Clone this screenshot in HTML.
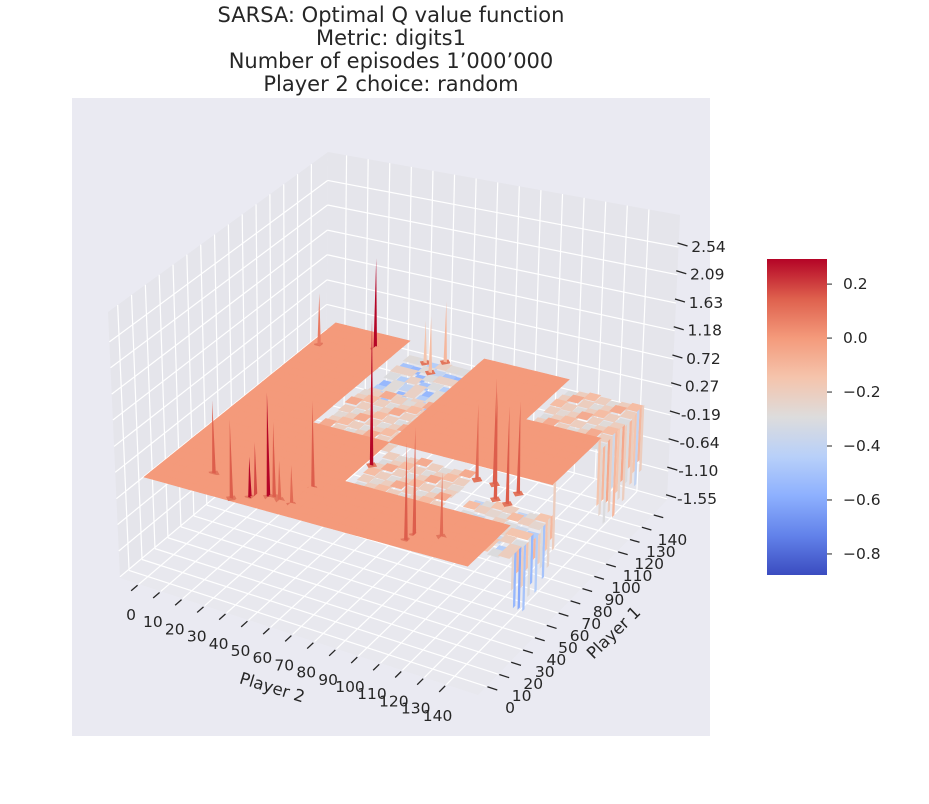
<!DOCTYPE html>
<html><head><meta charset="utf-8"><style>
html,body{margin:0;padding:0;background:#fff;}
svg{display:block;font-family:"DejaVu Sans","Liberation Sans",sans-serif;}
</style></head><body>
<svg id="chart" width="929" height="804" viewBox="0 0 929 804">
<rect x="72" y="98" width="638" height="638" fill="#eaeaf2"/>
<g font-size="21" fill="#262626" text-anchor="middle">
<text x="391" y="22">SARSA: Optimal Q value function</text>
<text x="391" y="45">Metric: digits1</text>
<text x="391" y="68">Number of episodes 1’000’000</text>
<text x="391" y="91">Player 2 choice: random</text>
</g>
<g id="panes"></g>
<g id="grid"></g>
<g id="surface"></g>
<g id="axes" font-size="15.5" fill="#262626"></g>
<text x="272" y="693" font-size="16.5" fill="#262626" text-anchor="middle" transform="rotate(17 272 688)">Player 2</text>
<text x="614" y="638" font-size="16.5" fill="#262626" text-anchor="middle" transform="rotate(-44 614 633)">Player 1</text>
<defs><linearGradient id="cw" x1="0" y1="1" x2="0" y2="0">
<stop offset="0" stop-color="#3b4cc0"/><stop offset="0.125" stop-color="#6282ea"/><stop offset="0.25" stop-color="#8db0fe"/><stop offset="0.375" stop-color="#b8d0f9"/><stop offset="0.5" stop-color="#dddcdc"/><stop offset="0.625" stop-color="#f5c4ac"/><stop offset="0.75" stop-color="#f49a7b"/><stop offset="0.875" stop-color="#de604d"/><stop offset="1" stop-color="#b40426"/>
</linearGradient></defs>
<rect x="767" y="259" width="60" height="316" fill="url(#cw)"/>
<g id="cbar" font-size="15.5" fill="#262626"></g>
</svg>
<script>
const zTickLabels=["2.54","2.09","1.63","1.18","0.72","0.27","-0.19","-0.64","-1.10","-1.55"];
const zTicks=[2.54,2.09,1.63,1.18,0.72,0.27,-0.19,-0.64,-1.10,-1.55];
const xTicks=[0,10,20,30,40,50,60,70,80,90,100,110,120,130,140];
const yTicks=[0,10,20,30,40,50,60,70,80,90,100,110,120,130,140];
const cbarTicks=[0.2,0.0,-0.2,-0.4,-0.6,-0.8];
const cbarLabels=["0.2","0.0","\u22120.2","\u22120.4","\u22120.6","\u22120.8"];
// block kinds on a 4x4 grid [x-block][y-block]: 0 plateau, 1 checkered, 2 blue dips, 3 drooping
const blockMap=[[0,0,0,0],[0,0,1,2],[0,1,0,0],[0,3,0,1]];
const plateauValue=0.0;
const pat=[[-0.12,-0.2,-0.28,-0.2,-0.12,-0.2,-0.28,-0.2],[-0.2,-0.06,-0.2,-0.28,-0.2,-0.06,-0.2,-0.28],[-0.28,-0.2,-0.12,-0.2,-0.28,-0.2,-0.12,-0.2],[-0.2,-0.28,-0.2,-0.06,-0.2,-0.28,-0.2,-0.06],[-0.12,-0.2,-0.3,-0.2,-0.12,-0.2,-0.3,-0.2],[-0.2,-0.06,-0.2,-0.26,-0.2,-0.06,-0.2,-0.26],[-0.3,-0.2,-0.12,-0.2,-0.3,-0.2,-0.12,-0.2],[-0.2,-0.26,-0.2,-0.06,-0.2,-0.26,-0.2,-0.06]];
const patD=[[-0.28,-0.45,-0.22,-0.55,-0.3,-0.2,-0.5,-0.28],[-0.4,-0.22,-0.55,-0.28,-0.45,-0.3,-0.22,-0.55],[-0.22,-0.5,-0.3,-0.4,-0.22,-0.55,-0.32,-0.22],[-0.55,-0.3,-0.22,-0.5,-0.28,-0.38,-0.22,-0.45]];
const patE=[[-0.2,-0.3,-0.15,-0.45,-0.25,-0.15,-0.35,-0.2],[-0.3,-0.15,-0.4,-0.2,-0.28,-0.2,-0.15,-0.45],[-0.15,-0.35,-0.25,-0.3,-0.12,-0.4,-0.28,-0.15],[-0.45,-0.2,-0.15,-0.35,-0.2,-0.28,-0.15,-0.3]];
const spikeX=[4,26,73,22,38,44,46,50,52,55,61,62,114,115,125,130,136,136,116,124,56,57,50];
const spikeY=[126,133,51,16,2,6,7,10,11,10,9,24,6,11,15,50,49,58,60,60,126,136,132];
const spikeZ=[1.08,1.76,2.57,1.39,1.47,0.83,1.07,1.88,1.39,0.8,0.8,1.6,1.68,1.84,1.15,1.84,1.68,1.6,1.36,1.84,1.12,1.2,0.88];
const spikeV=[0.08,0.29,0.29,0.15,0.15,0.29,0.18,0.29,0.15,0.12,0.12,0.15,0.15,0.15,0.12,0.15,0.15,0.15,0.12,0.15,-0.12,-0.1,-0.15];
const curtY=[37,39,41,43,45,47,49,51,53,55,57,59,61,63,65,67,69,71,108,110,112,114,116,118,120,122,124,126,128,130,132,134,136,138,140,142,144];
const curtBottom=[-0.9,-1.2,-0.7,-1.3,-1.0,-1.4,-0.8,-1.25,-1.1,-0.75,-1.3,-0.9,-1.0,-1.2,-0.8,-1.1,-0.7,-0.9,-0.9,-1.1,-0.9,-1.3,-1.0,-1.2,-0.85,-1.35,-1.0,-1.15,-0.9,-1.25,-1.0,-0.8,-1.1,-0.95,-1.2,-0.85,-1.05];
const curtV=[-0.25,-0.55,-0.1,-0.6,-0.2,-0.5,-0.15,-0.3,-0.55,-0.1,-0.45,-0.2,-0.3,-0.5,-0.15,-0.25,-0.1,-0.2,-0.15,-0.25,-0.1,-0.3,-0.05,-0.2,-0.35,-0.1,-0.15,-0.25,-0.05,-0.2,-0.3,-0.1,-0.2,-0.15,-0.4,-0.1,-0.2];

const X0=-8.6,X1=154.4,Y0=-7,Y1=152,Z0=-1.57,Z1=3.06;
const FL={L:[120,578],F:[478,695],R:[667,500],B:[326,405]};
const TP={L:[108,312],F:[484,386],R:[680,215],B:[328,152]};
function bil(q,u,v){return [0,1].map(k=>q.L[k]*(1-u)*(1-v)+q.F[k]*u*(1-v)+q.R[k]*u*v+q.B[k]*(1-u)*v);}
function P(x,y,z){const u=(x-X0)/(X1-X0),v=(y-Y0)/(Y1-Y0),w=(z-Z0)/(Z1-Z0);const a=bil(FL,u,v),b=bil(TP,u,v);return [a[0]+(b[0]-a[0])*w,a[1]+(b[1]-a[1])*w];}
const stops=[[59,76,192],[98,130,234],[141,176,254],[184,208,249],[221,220,220],[245,196,173],[244,154,123],[222,96,77],[180,4,38]];
function cw(val){let t=(val+0.878)/1.171;t=Math.max(0,Math.min(1,t))*8;const i=Math.min(7,Math.floor(t)),f=t-i;const c=stops[i].map((s,k)=>Math.round(s+(stops[i+1][k]-s)*f));return `rgb(${c[0]},${c[1]},${c[2]})`;}
const NS="http://www.w3.org/2000/svg";
function el(tag,attrs,parent){const e=document.createElementNS(NS,tag);for(const k in attrs)e.setAttribute(k,attrs[k]);parent.appendChild(e);return e;}
function pts(a){return a.map(p=>p[0].toFixed(1)+","+p[1].toFixed(1)).join(" ");}

const panes=document.getElementById('panes');
let e;
e=el('polygon',{points:pts([P(X0,Y0,Z0),P(X0,Y1,Z0),P(X0,Y1,Z1),P(X0,Y0,Z1)]),fill:'#e5e5eb'},panes);


e=el('polygon',{points:pts([P(X0,Y1,Z0),P(X1,Y1,Z0),P(X1,Y1,Z1),P(X0,Y1,Z1)]),fill:'#e5e5eb'},panes);


e=el('polygon',{points:pts([P(X0,Y0,Z0),P(X1,Y0,Z0),P(X1,Y1,Z0),P(X0,Y1,Z0)]),fill:'#e8e8ee'},panes);



const grid=document.getElementById('grid');
function gl(a,b,name){const l=el('line',{x1:a[0],y1:a[1],x2:b[0],y2:b[1],stroke:'#fff','stroke-width':1.2},grid);}
xTicks.forEach(t=>{gl(P(t,Y0,Z0),P(t,Y1,Z0),'floor-grid-x');gl(P(t,Y1,Z0),P(t,Y1,Z1),'wall-grid-x');});
yTicks.forEach(t=>{gl(P(X0,t,Z0),P(X1,t,Z0),'floor-grid-y');gl(P(X0,t,Z0),P(X0,t,Z1),'wall-grid-y');});
zTicks.forEach(t=>{gl(P(X0,Y0,t),P(X0,Y1,t),'wall-grid-z');gl(P(X0,Y1,t),P(X1,Y1,t),'wall-grid-z');});

const items=[];
function kindAt(x,y){const bi=Math.min(3,Math.floor(x/145*4)),bj=Math.min(3,Math.floor(y/145*4));return blockMap[bi][bj];}
function cellVal(ci,cj){const k=kindAt(ci*5+2.5,cj*5+2.5);
 if(k===0)return [plateauValue,0.15];
 if(k===1){const v=pat[ci%8][cj%8];return [v,0.05+v*0.3];}
 if(k===2){const v=patD[ci%4][cj%8];return [v,-0.05+v*0.2];}
 const v=patE[ci%4][cj%8];return [v,-0.3+v*0.3];}
for(let ci=0;ci<29;ci++)for(let cj=0;cj<29;cj++){
 const x0=ci*5,y0=cj*5,[v,z]=cellVal(ci,cj);
 items.push({key:(y0+2.5)-(x0+2.5),draw:g=>{const c=cw(v);const p=el('polygon',{points:pts([P(x0,y0,z),P(x0+5,y0,z),P(x0+5,y0+5,z),P(x0,y0+5,z)]),fill:c,stroke:c,'stroke-width':0.6},g);}});
}
curtY.forEach((y,i)=>{
 const cj=Math.min(28,Math.floor(y/5));const top=cellVal(28,cj)[1];
 items.push({key:y-147,draw:g=>{const c=cw(curtV[i]);const p=el('polygon',{points:pts([P(145,y,top),P(145,y+2,top),P(145,y+2,curtBottom[i]),P(145,y,curtBottom[i])]),fill:c},g);}});
});
spikeX.forEach((x,i)=>{
 const y=spikeY[i],zt=spikeZ[i],zb=0.15;
 items.push({key:(y-x)-0.3,draw:g=>{
  const pad=el('polygon',{points:pts([P(x-2.5,y,zb),P(x,y-2.5,zb),P(x+2.5,y,zb),P(x,y+2.5,zb)]),fill:'#e2765d'},g);
  
  
  const s=el('polygon',{points:pts([P(x-0.8,y,zb),P(x+0.8,y,zb),P(x,y,zt)]),fill:cw(spikeV[i])},g);
  
  }});
});
items.sort((a,b)=>b.key-a.key);
const surf=document.getElementById('surface');
items.forEach(it=>it.draw(surf));

const axes=document.getElementById('axes');
function tk(a,b,name){const l=el('line',{x1:a[0],y1:a[1],x2:b[0],y2:b[1],stroke:'#262626','stroke-width':1.3},axes);}
xTicks.forEach(t=>{tk(P(t,Y0-1,Z0),P(t,Y0-6,Z0),'x-tick');
 const tx=el('text',{x:131+2.19*t,y:620+0.72*t,'text-anchor':'middle'},axes);tx.textContent=String(t);});
yTicks.forEach(t=>{tk(P(X1+0.5,t,Z0),P(X1+5,t,Z0),'y-tick');
 const tx=el('text',{x:510+1.16*t,y:713-1.2*t,'text-anchor':'middle'},axes);tx.textContent=String(t);});
zTicks.forEach((t,i)=>{const p=P(X1,Y1,t);tk([p[0]-1,p[1]-4],[p[0]+9,p[1]-1],'z-tick');
 const tx=el('text',{x:p[0]+30,y:p[1]+5,'text-anchor':'middle'},axes);tx.textContent=zTickLabels[i];});

const cb=document.getElementById('cbar');
cbarTicks.forEach((t,i)=>{const y=259+(0.293-t)/1.171*316;
 const l=el('line',{x1:827,y1:y,x2:832,y2:y,stroke:'#262626','stroke-width':1},cb);
 const tx=el('text',{x:843,y:y+5},cb);tx.textContent=cbarLabels[i];});
</script>
</body></html>
